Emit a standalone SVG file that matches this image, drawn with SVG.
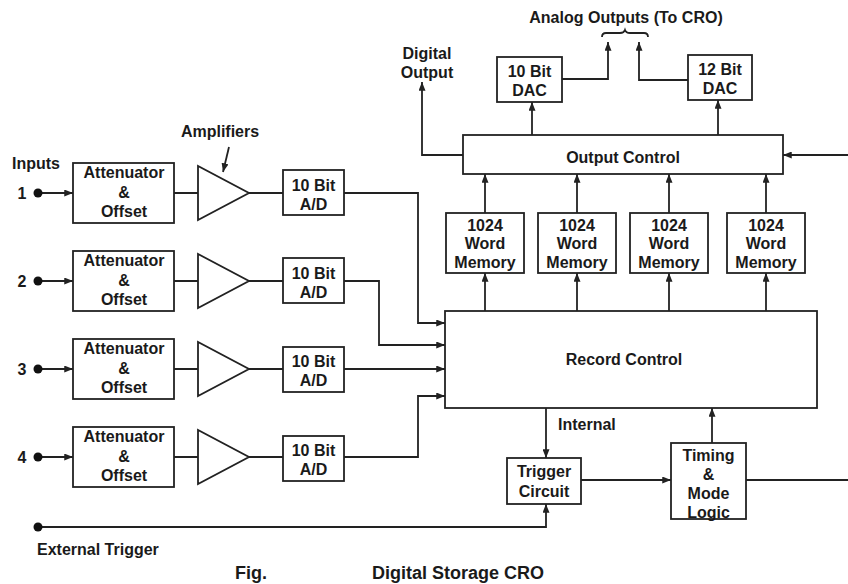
<svg xmlns="http://www.w3.org/2000/svg" width="848" height="584" viewBox="0 0 848 584">
<style>
.b{fill:#fff;stroke:#222;stroke-width:1.8}
.c{fill:none;stroke:#222;stroke-width:1.8}
text{font-family:"Liberation Sans",Arial,sans-serif;font-weight:bold;font-size:16px;fill:#1a1a1a;text-anchor:middle}
.s{text-anchor:start}
.t{font-size:18px}
</style>
<defs>
<marker id="a" viewBox="0 0 10 8" refX="10" refY="4" markerWidth="9" markerHeight="7" markerUnits="userSpaceOnUse" orient="auto">
<path d="M0,0 L10,4 L0,8 Z" fill="#222"/>
</marker>
</defs>
<rect width="848" height="584" fill="#fff"/>

<g id="connectors">
<path class="c" d="M38,193 H73" marker-end="url(#a)"/>
<path class="c" d="M38,281 H73" marker-end="url(#a)"/>
<path class="c" d="M38,369 H73" marker-end="url(#a)"/>
<path class="c" d="M38,457 H73" marker-end="url(#a)"/>
<path class="c" d="M174,193 H198 M249,193 H283"/>
<path class="c" d="M174,281 H198 M249,281 H283"/>
<path class="c" d="M174,369 H198 M249,369 H283"/>
<path class="c" d="M174,457 H198 M249,457 H283"/>
<path class="c" d="M344,193 H418 V323 H445" marker-end="url(#a)"/>
<path class="c" d="M344,281 H379 V345 H445" marker-end="url(#a)"/>
<path class="c" d="M344,369 H445" marker-end="url(#a)"/>
<path class="c" d="M344,457 H418 V396 H445" marker-end="url(#a)"/>
<path class="c" d="M485,311 V273" marker-end="url(#a)"/>
<path class="c" d="M577,311 V273" marker-end="url(#a)"/>
<path class="c" d="M669,311 V273" marker-end="url(#a)"/>
<path class="c" d="M766,311 V273" marker-end="url(#a)"/>
<path class="c" d="M485,213 V174" marker-end="url(#a)"/>
<path class="c" d="M577,213 V174" marker-end="url(#a)"/>
<path class="c" d="M669,213 V174" marker-end="url(#a)"/>
<path class="c" d="M766,213 V174" marker-end="url(#a)"/>
<path class="c" d="M848,155 H783" marker-end="url(#a)"/>
<path class="c" d="M463,155 H422 V82" marker-end="url(#a)"/>
<path class="c" d="M532,135 V102" marker-end="url(#a)"/>
<path class="c" d="M718,135 V100" marker-end="url(#a)"/>
<path class="c" d="M562,79 H608 V42" marker-end="url(#a)"/>
<path class="c" d="M688,80 H639 V42" marker-end="url(#a)"/>
<path class="c" stroke-width="1.3" d="M602,37 Q602,33 606,33 H620 Q624,33 625,30 Q626,33 630,33 H644 Q648,33 648,37"/>
<path class="c" d="M546,408 V458" marker-end="url(#a)"/>
<path class="c" d="M581,480 H671" marker-end="url(#a)"/>
<path class="c" d="M712,443 V408" marker-end="url(#a)"/>
<path class="c" d="M746,480 H848"/>
<path class="c" d="M38,527 H546 V504" marker-end="url(#a)"/>
<path class="c" stroke-width="1.4" d="M229,147 L223,172" marker-end="url(#a)"/>
<circle cx="38" cy="193" r="4.5" fill="#111"/>
<circle cx="38" cy="281" r="4.5" fill="#111"/>
<circle cx="38" cy="369" r="4.5" fill="#111"/>
<circle cx="38" cy="457" r="4.5" fill="#111"/>
<circle cx="38" cy="527" r="4.5" fill="#111"/>
</g>

<g id="atten1"><rect class="b" x="73" y="163" width="101" height="60"/><text x="124" y="178">Attenuator</text><text x="124" y="198">&amp;</text><text x="124" y="217">Offset</text></g>
<g id="atten2"><rect class="b" x="73" y="251" width="101" height="60"/><text x="124" y="266">Attenuator</text><text x="124" y="286">&amp;</text><text x="124" y="305">Offset</text></g>
<g id="atten3"><rect class="b" x="73" y="339" width="101" height="60"/><text x="124" y="354">Attenuator</text><text x="124" y="374">&amp;</text><text x="124" y="393">Offset</text></g>
<g id="atten4"><rect class="b" x="73" y="427" width="101" height="60"/><text x="124" y="442">Attenuator</text><text x="124" y="462">&amp;</text><text x="124" y="481">Offset</text></g>

<g id="amp1"><polygon class="b" points="198,166 198,220 249,193"/></g>
<g id="amp2"><polygon class="b" points="198,254 198,308 249,281"/></g>
<g id="amp3"><polygon class="b" points="198,342 198,396 249,369"/></g>
<g id="amp4"><polygon class="b" points="198,430 198,484 249,457"/></g>

<g id="ad1"><rect class="b" x="283" y="170" width="61" height="45"/><text x="313.5" y="191">10 Bit</text><text x="313.5" y="210">A/D</text></g>
<g id="ad2"><rect class="b" x="283" y="258" width="61" height="45"/><text x="313.5" y="279">10 Bit</text><text x="313.5" y="298">A/D</text></g>
<g id="ad3"><rect class="b" x="283" y="347" width="61" height="45"/><text x="313.5" y="367">10 Bit</text><text x="313.5" y="386">A/D</text></g>
<g id="ad4"><rect class="b" x="283" y="436" width="61" height="45"/><text x="313.5" y="456">10 Bit</text><text x="313.5" y="475">A/D</text></g>

<g id="record"><rect class="b" x="445" y="311" width="372" height="97"/><text x="624" y="365">Record Control</text></g>

<g id="mem1"><rect class="b" x="446" y="213" width="78" height="60"/><text x="485" y="231">1024</text><text x="485" y="249">Word</text><text x="485" y="268">Memory</text></g>
<g id="mem2"><rect class="b" x="538" y="213" width="78" height="60"/><text x="577" y="231">1024</text><text x="577" y="249">Word</text><text x="577" y="268">Memory</text></g>
<g id="mem3"><rect class="b" x="630" y="213" width="78" height="60"/><text x="669" y="231">1024</text><text x="669" y="249">Word</text><text x="669" y="268">Memory</text></g>
<g id="mem4"><rect class="b" x="727" y="213" width="78" height="60"/><text x="766" y="231">1024</text><text x="766" y="249">Word</text><text x="766" y="268">Memory</text></g>

<g id="output"><rect class="b" x="463" y="135" width="320" height="39"/><text x="623" y="163">Output Control</text></g>

<g id="dac10"><rect class="b" x="497" y="57" width="65" height="45"/><text x="529.5" y="77">10 Bit</text><text x="529.5" y="96">DAC</text></g>
<g id="dac12"><rect class="b" x="688" y="55" width="64" height="45"/><text x="720" y="75">12 Bit</text><text x="720" y="94">DAC</text></g>

<g id="trigger"><rect class="b" x="507" y="458" width="74" height="46"/><text x="544" y="477">Trigger</text><text x="544" y="497">Circuit</text></g>
<g id="timing"><rect class="b" x="671" y="443" width="75" height="76"/><text x="708.5" y="461">Timing</text><text x="708.5" y="480">&amp;</text><text x="708.5" y="499">Mode</text><text x="708.5" y="518">Logic</text></g>

<g id="labels">
<text class="s" x="12" y="169">Inputs</text>
<text x="22" y="199">1</text>
<text x="22" y="287">2</text>
<text x="22" y="375">3</text>
<text x="22" y="463">4</text>
<text x="220" y="137">Amplifiers</text>
<text x="427" y="59">Digital</text>
<text x="427" y="78">Output</text>
<text x="626" y="23">Analog Outputs (To CRO)</text>
<text class="s" x="558" y="430">Internal</text>
<text class="s" x="37" y="555">External Trigger</text>
<text class="t" x="251" y="579">Fig.</text>
<text class="t s" x="372" y="579">Digital Storage CRO</text>
</g>
</svg>
